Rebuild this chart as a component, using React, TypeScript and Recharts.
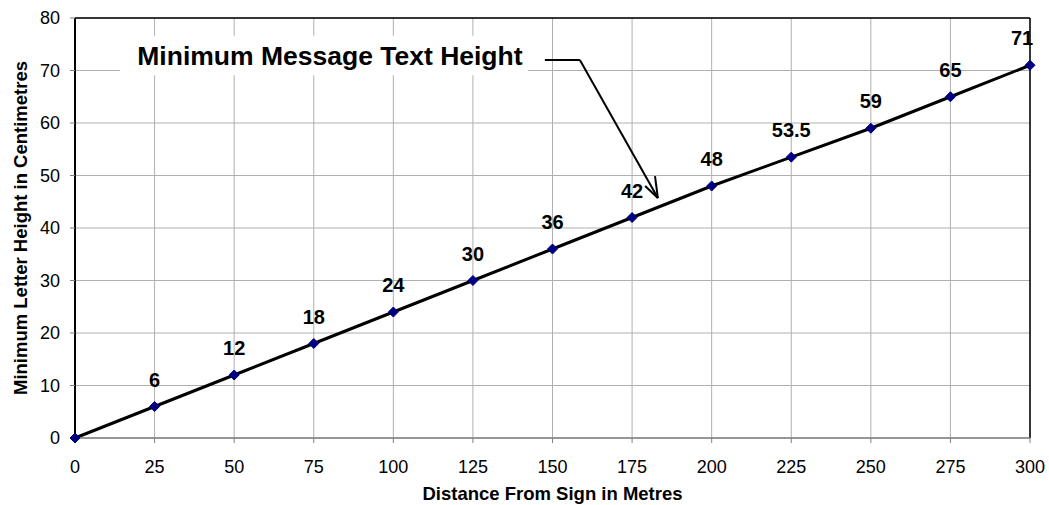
import {
  LineChart,
  Line,
  XAxis,
  YAxis,
  CartesianGrid,
  LabelList,
  ReferenceArea,
  ReferenceLine,
} from "recharts";

// distance from sign (m) and minimum letter height (cm)
const distances = [0, 25, 50, 75, 100, 125, 150, 175, 200, 225, 250, 275, 300];
const heights = [0, 6, 12, 18, 24, 30, 36, 42, 48, 53.5, 59, 65, 71];

const xTicks = [0, 25, 50, 75, 100, 125, 150, 175, 200, 225, 250, 275, 300];
const yTicks = [0, 10, 20, 30, 40, 50, 60, 70, 80];

const chartData = distances.map((d, i) => ({ x: d, y: heights[i] }));

// callout box + leader arrow, in data units
const calloutText = "Minimum Message Text Height";
const calloutBox = { x1: 14.1, x2: 142.3, y1: 69.1, y2: 76.6 };
const leader = [
  { from: [147.6, 72.0], to: [158.6, 72.0] },
  { from: [158.6, 72.0], to: [183.1, 45.7] },
  { from: [183.1, 45.7], to: [179.1, 48.0] },
  { from: [183.1, 45.7], to: [182.2, 49.9] },
];

const FONT = "'Liberation Sans', Arial, Helvetica, sans-serif";
const W = 1049;
const H = 505;

const Diamond = (props: any) => {
  const { cx, cy } = props;
  if (cx == null || cy == null) return null;
  const r = 5;
  return (
    <path
      d={`M${cx},${cy - r} L${cx + r},${cy} L${cx},${cy + r} L${cx - r},${cy} Z`}
      fill="#000080"
      stroke="#000080"
    />
  );
};

const PointLabel = (props: any) => {
  const { x, y, value } = props;
  if (value == null || value === 0) return null;
  // keep the last label inside the picture, like the original
  const cx = Math.min(x, W - 27);
  return (
    <text
      x={cx}
      y={y - 20}
      textAnchor="middle"
      fontSize={20}
      fontWeight="bold"
      fill="#000"
      fontFamily={FONT}
    >
      {value}
    </text>
  );
};

const YTitle = (props: any) => {
  const { viewBox } = props;
  const cy = viewBox.y + viewBox.height / 2;
  const cx = 20;
  return (
    <text
      x={cx}
      y={cy}
      transform={`rotate(-90, ${cx}, ${cy})`}
      textAnchor="middle"
      dominantBaseline="central"
      fontSize={18.5}
      fontWeight="bold"
      fill="#000"
      fontFamily={FONT}
    >
      Minimum Letter Height in Centimetres
    </text>
  );
};

const CalloutLabel = (props: any) => {
  const { viewBox } = props;
  return (
    <text
      x={viewBox.x + viewBox.width / 2 + 6}
      y={viewBox.y + viewBox.height / 2}
      textAnchor="middle"
      dominantBaseline="central"
      fontSize={26.5}
      fontWeight="bold"
      fill="#000"
      fontFamily={FONT}
    >
      {calloutText}
    </text>
  );
};

export default function App() {
  return (
    <div
      style={{
        fontFamily: FONT,
        position: "fixed",
        left: 0,
        top: 0,
        width: W,
        height: H,
        background: "#fff",
      }}
    >
      <LineChart
        width={W}
        height={H}
        data={chartData}
        margin={{ top: 18, right: 19, bottom: 0, left: 0 }}
      >
        <CartesianGrid stroke="#b0b0b0" strokeWidth={1} />
        <XAxis
          dataKey="x"
          type="number"
          domain={[0, 300]}
          ticks={xTicks}
          interval={0}
          height={67}
          axisLine={{ stroke: "#808080", strokeWidth: 1.5 }}
          tickLine={{ stroke: "#808080" }}
          tickSize={5}
          tickMargin={17}
          tick={{ fontSize: 18, fill: "#000", fontFamily: FONT }}
          label={{
            value: "Distance From Sign in Metres",
            position: "insideBottom",
            offset: 5,
            fontSize: 18.5,
            fontWeight: "bold",
            fill: "#000",
            fontFamily: FONT,
          }}
        />
        <YAxis
          type="number"
          domain={[0, 80]}
          ticks={yTicks}
          interval={0}
          width={75}
          axisLine={{ stroke: "#000", strokeWidth: 2 }}
          tickLine={{ stroke: "#808080" }}
          tickSize={5}
          tickMargin={10}
          tick={{ fontSize: 18, fill: "#000", fontFamily: FONT }}
          label={<YTitle />}
        />
        <ReferenceLine y={80} stroke="#000" strokeWidth={1.5} />
        <ReferenceLine x={300} stroke="#000" strokeWidth={1.5} />
        <ReferenceArea
          x1={calloutBox.x1}
          x2={calloutBox.x2}
          y1={calloutBox.y1}
          y2={calloutBox.y2}
          fill="#fff"
          fillOpacity={1}
          stroke="none"
          label={<CalloutLabel />}
        />
        {leader.map((seg, i) => (
          <ReferenceLine
            key={i}
            segment={[
              { x: seg.from[0], y: seg.from[1] },
              { x: seg.to[0], y: seg.to[1] },
            ]}
            stroke="#000"
            strokeWidth={2}
          />
        ))}
        <Line
          dataKey="y"
          type="linear"
          stroke="#000"
          strokeWidth={3}
          dot={<Diamond />}
          activeDot={false}
          isAnimationActive={false}
        >
          <LabelList dataKey="y" content={<PointLabel />} />
        </Line>
      </LineChart>
    </div>
  );
}
